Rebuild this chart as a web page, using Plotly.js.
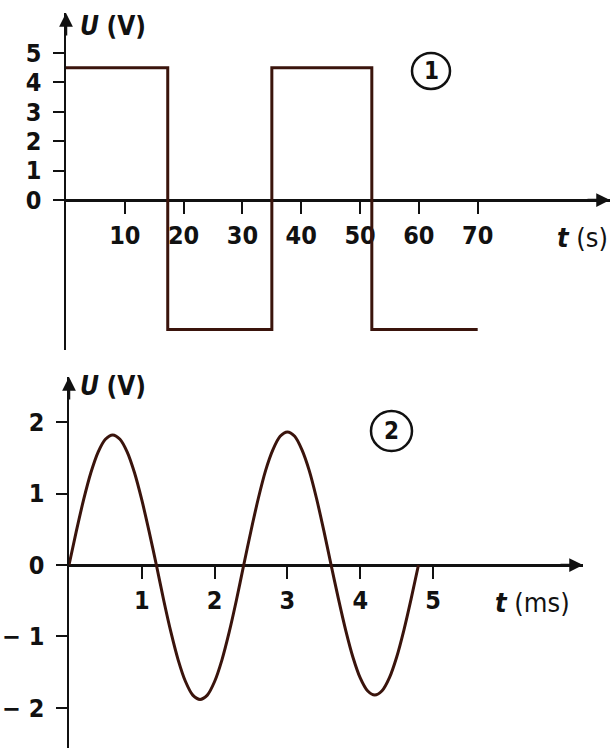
<!DOCTYPE html>
<html>
<head>
<meta charset="utf-8">
<script src="https://cdn.plot.ly/plotly-3.0.1.min.js"></script>
<style>
  html, body { margin: 0; padding: 0; background: #ffffff; }
  #chart { width: 613px; height: 752px; }
</style>
</head>
<body>
<div id="chart"></div>
<script>
// Graph 1: square wave voltage, time in seconds (step changes)
const squareT = [0, 17.3, 35.0, 52.0, 70];
const squareU = [4.5, -4.4, 4.5, -4.4, -4.4];
const squareTicksX = [10, 20, 30, 40, 50, 60, 70];
const squareTicksY = [0, 1, 2, 3, 4, 5];

// Graph 2: alternating (sinusoidal) voltage, time in milliseconds
const sineT = [0, 0.1, 0.2, 0.3, 0.4, 0.5, 0.6, 0.7, 0.8, 0.9, 1.0, 1.1, 1.2,
               1.3, 1.4, 1.5, 1.6, 1.7, 1.8, 1.9, 2.0, 2.1, 2.2, 2.3, 2.4,
               2.5, 2.6, 2.7, 2.8, 2.9, 3.0, 3.1, 3.2, 3.3, 3.4, 3.5, 3.6,
               3.7, 3.8, 3.9, 4.0, 4.1, 4.2, 4.3, 4.4, 4.5, 4.6, 4.7, 4.8];
const sineU = [0, 0.47, 0.91, 1.29, 1.58, 1.76, 1.82, 1.76, 1.58, 1.29, 0.91, 0.47, 0,
               -0.49, -0.94, -1.33, -1.63, -1.82, -1.88, -1.82, -1.63, -1.33, -0.94, -0.49, 0,
               0.48, 0.93, 1.32, 1.61, 1.80, 1.86, 1.80, 1.61, 1.32, 0.93, 0.48, 0,
               -0.47, -0.91, -1.29, -1.58, -1.76, -1.82, -1.76, -1.58, -1.29, -0.91, -0.47, 0];
const sineTicksX = [1, 2, 3, 4, 5];
const sineTicksY = [-2, -1, 0, 1, 2];
const sineTickTextY = ['\u2212 2', '\u2212 1', '0', '1', '2'];

const W = 613, H = 752;
const FONT = '"Liberation Sans Narrow", "DejaVu Sans Condensed", "DejaVu Sans", sans-serif';
const INK = '#111111';
const CURVE = '#3a140c';

// pixel helpers for paper-referenced decorations
const px = v => v / W;
const py = v => 1 - v / H;

// axis frames
const y1Range = [-5.10, 6.36], y1Dom = [py(350), py(13)];
const y2Range = [-2.56, 2.63], y2Dom = [py(748), py(377)];
const zeroPos = (r, d) => d[0] + (0 - r[0]) / (r[1] - r[0]) * (d[1] - d[0]);

const traces = [
  {
    x: squareT, y: squareU, xaxis: 'x', yaxis: 'y',
    mode: 'lines', line: { color: CURVE, width: 3, shape: 'hv' },
    hoverinfo: 'skip', showlegend: false
  },
  {
    x: sineT, y: sineU, xaxis: 'x2', yaxis: 'y2',
    mode: 'lines', line: { color: CURVE, width: 3, shape: 'spline', smoothing: 0.8 },
    hoverinfo: 'skip', showlegend: false
  }
];

const tickFont = { family: FONT, size: 25, color: INK, weight: 'bold' };

const xCommon = {
  showgrid: false, zeroline: false, showline: true, linecolor: INK, linewidth: 2.5,
  ticks: 'outside', ticklen: 12, tickwidth: 2, tickcolor: INK,
  tickfont: tickFont, anchor: 'free', layer: 'below traces', fixedrange: true
};
const yCommon = {
  showgrid: false, zeroline: false, showline: true, linecolor: INK, linewidth: 2.5,
  ticks: 'outside', ticklen: 11, tickwidth: 2, tickcolor: INK,
  tickfont: tickFont, layer: 'below traces', fixedrange: true, ticklabelstandoff: 6
};

const layout = {
  width: W, height: H,
  margin: { l: 0, r: 0, t: 0, b: 0 },
  paper_bgcolor: '#ffffff', plot_bgcolor: 'rgba(0,0,0,0)',
  xaxis: Object.assign({}, xCommon, {
    domain: [px(66), px(610)], range: [0, 92.5],
    tickvals: squareTicksX, position: zeroPos(y1Range, y1Dom)
  }),
  yaxis: Object.assign({}, yCommon, {
    domain: y1Dom, range: y1Range, anchor: 'x',
    tickvals: squareTicksY
  }),
  xaxis2: Object.assign({}, xCommon, {
    domain: [px(69), px(583)], range: [0, 7.06],
    tickvals: sineTicksX, position: zeroPos(y2Range, y2Dom)
  }),
  yaxis2: Object.assign({}, yCommon, {
    domain: y2Dom, range: y2Range, anchor: 'x2',
    tickvals: sineTicksY, ticktext: sineTickTextY
  }),
  shapes: [
    // circled graph numbers
    { type: 'circle', xref: 'paper', yref: 'paper',
      x0: px(412), x1: px(450), y0: py(89), y1: py(53), line: { color: INK, width: 2.5 } },
    { type: 'circle', xref: 'paper', yref: 'paper',
      x0: px(371), x1: px(412), y0: py(451), y1: py(411), line: { color: INK, width: 2.5 } }
  ],
  annotations: [
    // axis arrowheads
    { xref: 'x domain', yref: 'y domain', x: 0, y: 1, ax: 0, ay: 24, axref: 'pixel', ayref: 'pixel',
      text: '', showarrow: true, arrowhead: 2, arrowsize: 1.1, arrowwidth: 2.5, arrowcolor: INK },
    { xref: 'x domain', yref: 'paper', x: 1, y: zeroPos(y1Range, y1Dom), ax: -24, ay: 0,
      text: '', showarrow: true, arrowhead: 2, arrowsize: 1.1, arrowwidth: 2.5, arrowcolor: INK },
    { xref: 'x2 domain', yref: 'y2 domain', x: 0, y: 1, ax: 0, ay: 24,
      text: '', showarrow: true, arrowhead: 2, arrowsize: 1.1, arrowwidth: 2.5, arrowcolor: INK },
    { xref: 'x2 domain', yref: 'paper', x: 1, y: zeroPos(y2Range, y2Dom), ax: -24, ay: 0,
      text: '', showarrow: true, arrowhead: 2, arrowsize: 1.1, arrowwidth: 2.5, arrowcolor: INK },
    // axis names
    { xref: 'paper', yref: 'paper', x: px(78), y: py(26), xanchor: 'left', yanchor: 'middle', showarrow: false,
      text: '<b><i>U</i></b> <b>(V)</b>', font: { family: FONT, size: 26, color: INK } },
    { xref: 'paper', yref: 'paper', x: px(78), y: py(386), xanchor: 'left', yanchor: 'middle', showarrow: false,
      text: '<b><i>U</i></b> <b>(V)</b>', font: { family: FONT, size: 26, color: INK } },
    { xref: 'paper', yref: 'paper', x: px(555), y: py(238), xanchor: 'left', yanchor: 'middle', showarrow: false,
      text: '<b><i>t</i></b> (s)', font: { family: FONT, size: 27, color: INK } },
    { xref: 'paper', yref: 'paper', x: px(493), y: py(602), xanchor: 'left', yanchor: 'middle', showarrow: false,
      text: '<b><i>t</i></b> (ms)', font: { family: FONT, size: 27, color: INK } },
    // graph numbers
    { xref: 'paper', yref: 'paper', x: px(431), y: py(71), xanchor: 'center', yanchor: 'middle', showarrow: false,
      text: '<b>1</b>', font: { family: FONT, size: 24, color: INK } },
    { xref: 'paper', yref: 'paper', x: px(391.5), y: py(431), xanchor: 'center', yanchor: 'middle', showarrow: false,
      text: '<b>2</b>', font: { family: FONT, size: 24, color: INK } }
  ]
};

Plotly.newPlot('chart', traces, layout, { staticPlot: true, displayModeBar: false });
</script>
</body>
</html>
